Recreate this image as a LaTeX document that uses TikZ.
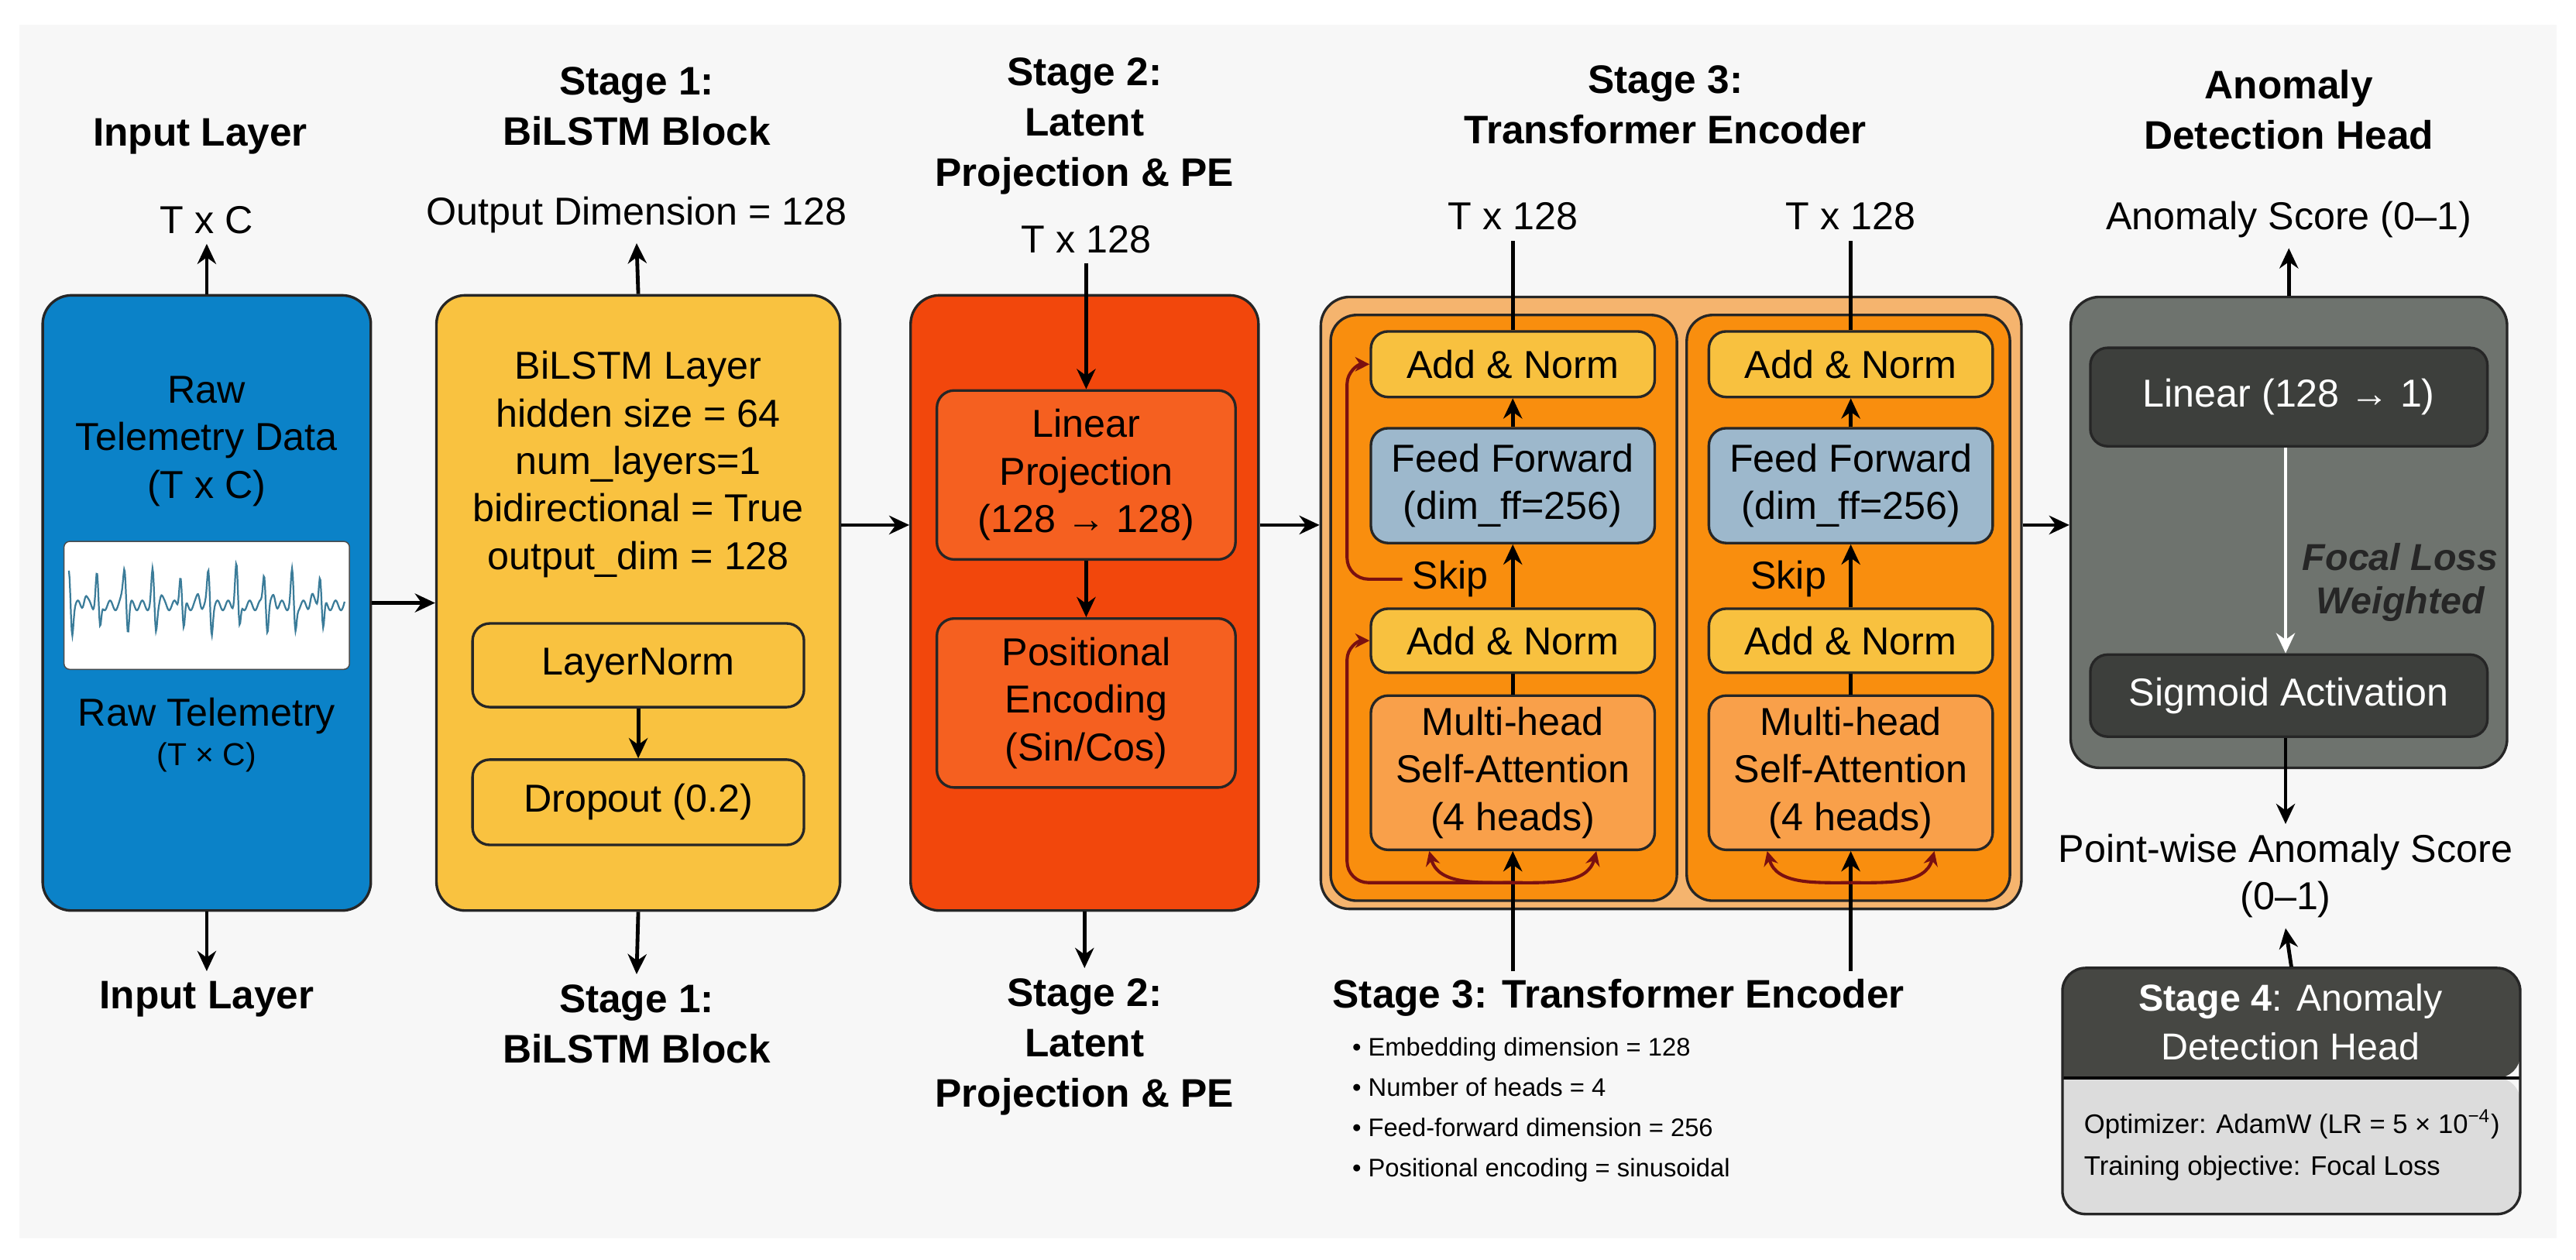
\documentclass[tikz,border=0pt]{standalone}
\usepackage{fontspec}
\setmainfont{Liberation Sans}
\usetikzlibrary{arrows.meta}
\definecolor{cblue}{HTML}{0B82C8}
\definecolor{cyel}{HTML}{F9C240}
\definecolor{cred}{HTML}{F2470C}
\definecolor{credin}{HTML}{F56020}
\definecolor{couter}{HTML}{F5B46E}
\definecolor{cinner}{HTML}{F98E0E}
\definecolor{cadd}{HTML}{F8C13F}
\definecolor{cff}{HTML}{9DB8CC}
\definecolor{cmh}{HTML}{F9A04A}
\definecolor{cgray}{HTML}{6E736E}
\definecolor{cdark}{HTML}{3D3F3C}
\definecolor{cs4}{HTML}{464743}
\definecolor{clight}{HTML}{DCDCDC}
\definecolor{cwave}{HTML}{3B7C99}
\definecolor{cskip}{HTML}{7A1010}
\definecolor{cbg}{HTML}{F7F7F7}
\newcommand\ttlf{\fontsize{13.8}{17.5}\selectfont\bfseries}
\newcommand\bodyf{\fontsize{13.5}{16.5}\selectfont}
\newcommand\smallf{\fontsize{8.8}{14}\selectfont}
\begin{document}
\begin{tikzpicture}[x=0.02cm,y=-0.02cm,
  box/.style={draw=black!85, line width=0.9pt, rounded corners=6pt, align=center, inner sep=0pt, font=\bodyf},
  ttl/.style={font=\ttlf, align=center},
  lbl/.style={font=\bodyf, align=center},
  arr/.style={-{Stealth[length=7pt,width=6.5pt]}, line width=1.3pt},
  sarr/.style={-{Stealth[length=5pt,width=5pt]}, line width=1.1pt, draw=cskip}]
\fill[white] (0,0) rectangle (1570,768);
\useasboundingbox (0,0) rectangle (1570,768);
\fill[cbg] (12,15) rectangle (1558,755);

% ---------- Input ----------
\node[box, fill=cblue, minimum width=200*0.02cm, minimum height=375*0.02cm, rounded corners=10pt] (inp) at (126,367.5) {};
\node[lbl] (inpt) at (126,269) {Raw\\Telemetry Data\\(T x C)};
\node[draw=black!70, fill=white, rounded corners=2pt, minimum width=174*0.02cm, minimum height=78*0.02cm, inner sep=0] (wave) at (126,369) {};
\draw[cwave, line width=0.6pt] plot[domain=42:210, samples=400]
  (\x,{369 - 3*sin(55*\x) - 20*exp(-pow(mod(\x,17)-8,2)/1.2) + 16*exp(-pow(mod(\x,17)-10,2)/1.0) - 6*exp(-pow(mod(\x+5,23)-11,2)/2)});
\node[lbl] (inpb) at (126,448) {Raw Telemetry\\[-3pt]{\fontsize{11}{12}\selectfont (T × C)}};
\node[ttl] (t0) at (122,83) {Input Layer};
\node[ttl] (b0) at (126,609) {Input Layer};
\node[lbl] (o0) at (126,134) {T x C};
\draw[arr] (inp.north) -- (o0.south);
\draw[arr] (inp.south) -- (b0.north);

% ---------- BiLSTM ----------
\node[box, fill=cyel, minimum width=246*0.02cm, minimum height=375*0.02cm, rounded corners=10pt] (bil) at (389,367.5) {};
\node[lbl] (bilt) at (389,283) {BiLSTM Layer\\hidden size = 64\\num\_layers=1\\bidirectional = True\\output\_dim = 128};
\node[box, fill=cyel, minimum width=202*0.02cm, minimum height=51*0.02cm] (ln) at (389,405.5) {LayerNorm};
\node[box, fill=cyel, minimum width=202*0.02cm, minimum height=52*0.02cm] (dr) at (389,489) {Dropout (0.2)};
\draw[arr] (ln) -- (dr);
\node[ttl] (t1) at (388,65) {Stage 1:\\BiLSTM Block};
\node[lbl] (o1) at (388,131) {Output Dimension = 128};
\draw[arr] (bil.north) -- (o1.south);
\node[ttl] (b1) at (388,624) {Stage 1:\\BiLSTM Block};
\draw[arr] (bil.south) -- (b1.north);
\draw[arr] (inp) -- (bil);

% ---------- Latent ----------
\node[box, fill=cred, minimum width=212*0.02cm, minimum height=375*0.02cm, rounded corners=10pt] (lat) at (661,367.5) {};
\node[box, fill=credin, minimum width=182*0.02cm, minimum height=103*0.02cm] (lp) at (662,289.5) {Linear\\Projection\\(128 → 128)};
\node[box, fill=credin, minimum width=182*0.02cm, minimum height=103*0.02cm] (pe) at (662,428.5) {Positional\\Encoding\\(Sin/Cos)};
\node[ttl] (t2) at (661,77) {Stage 2:\\Latent\\Projection \& PE};
\node[lbl] (o2) at (662,146) {T x 128};
\draw[arr] (o2.south) -- (lp.north);
\draw[arr] (lp) -- (pe);
\node[ttl] (b2) at (661,638) {Stage 2:\\Latent\\Projection \& PE};
\draw[arr] (lat.south) -- (b2.north);
\draw[arr] (bil.east |- 0,320) -- (lat.west |- 0,320);

% ---------- Transformer ----------
\node[box, fill=couter, minimum width=427*0.02cm, minimum height=373*0.02cm, rounded corners=10pt] (tro) at (1018.5,367.5) {};
\node[box, fill=cinner, minimum width=211*0.02cm, minimum height=357*0.02cm, rounded corners=9pt] (tb1) at (916.5,370.5) {};
\node[box, fill=cinner, minimum width=197*0.02cm, minimum height=357*0.02cm, rounded corners=9pt] (tb2) at (1126.5,370.5) {};
\foreach \i/\cx in {1/922,2/1128}{
  \node[box, fill=cadd, minimum width=173*0.02cm, minimum height=40*0.02cm] (ant\i) at (\cx,222) {Add \& Norm};
  \node[box, fill=cff, minimum width=173*0.02cm, minimum height=70*0.02cm] (ff\i) at (\cx,296) {Feed Forward\\(dim\_ff=256)};
  \node[box, fill=cadd, minimum width=173*0.02cm, minimum height=39*0.02cm] (anb\i) at (\cx,390.5) {Add \& Norm};
  \node[box, fill=cmh, minimum width=173*0.02cm, minimum height=94*0.02cm] (mh\i) at (\cx,471) {Multi-head\\Self-Attention\\(4 heads)};
  \node[lbl] (sk\i) at (\cx-38,353) {Skip};
  \node[lbl] (ot\i) at (\cx,132) {T x 128};
  \coordinate (in\i) at (\cx,592);
  \coordinate (br\i) at (\cx,538);
  \draw[arr] (in\i) -- (mh\i.south);
  \draw[line width=1.3pt] (mh\i.north) -- (anb\i.south);
  \draw[arr] (anb\i.north) -- (ff\i.south);
  \draw[arr] (ff\i.north) -- (ant\i.south);
  \draw[line width=1.3pt] (ant\i.north) -- (ot\i.south);
  \draw[sarr] (br\i) to[out=180,in=-75] ([xshift=-29pt]mh\i.south);
  \draw[sarr] (br\i) to[out=0,in=-105] ([xshift=29pt]mh\i.south);
}
\draw[sarr] (br1) -- (834,538) to[out=180,in=-90] (821,525) -- (821,402) to[out=90,in=180] (anb1.west);
\draw[sarr] (sk1.west) -- (834,353) to[out=180,in=-90] (821,340) -- (821,234) to[out=90,in=180] (ant1.west);
\node[ttl] (t3) at (1015,64) {Stage 3:\\Transformer Encoder};
\node[ttl, anchor=west] (b3) at (806,608) {Stage 3: Transformer Encoder};
\node[font=\smallf, anchor=north west, align=left] (bul) at (818,626) {• Embedding dimension = 128\\• Number of heads = 4\\• Feed-forward dimension = 256\\• Positional encoding = sinusoidal};
\draw[arr] (lat.east |- 0,320) -- (tro.west |- 0,320);

% ---------- Anomaly ----------
\node[box, fill=cgray, minimum width=266*0.02cm, minimum height=287*0.02cm, rounded corners=10pt] (an) at (1395,324.5) {};
\node[box, fill=cdark, text=white, minimum width=242*0.02cm, minimum height=60*0.02cm] (lin) at (1395,242) {Linear (128 → 1)};
\node[box, fill=cdark, text=white, minimum width=242*0.02cm, minimum height=50*0.02cm] (sig) at (1395,424) {Sigmoid Activation};
\draw[arr, draw=white] (lin.south -| 1393,0) -- (sig.north -| 1393,0);
\node[font=\fontsize{13}{15}\selectfont\bfseries\itshape, text=black!85, align=center] (fl) at (1463,355) {Focal Loss\\Weighted};
\node[ttl] (t4) at (1395,67) {Anomaly\\Detection Head};
\node[lbl] (o4) at (1395,134) {Anomaly Score (0–1)};
\draw[arr] (an.north) -- (o4.south);
\draw[arr] (tro.east |- 0,320) -- (an.west |- 0,320);
\node[lbl] (pw) at (1393,534) {Point-wise Anomaly Score\\(0–1)};
\draw[arr] (sig.south -| pw) -- (pw.north);
% Stage 4 box
\fill[cs4, rounded corners=8pt] (1257,657) -- (1257,590) -- (1536,590) -- (1536,657) [sharp corners] -- cycle;
\fill[clight, rounded corners=8pt] (1257,657) -- (1257,740) -- (1536,740) -- (1536,657) [sharp corners] -- cycle;
\draw[line width=0.9pt] (1257,657) -- (1536,657);
\node[draw=black!85, line width=0.9pt, rounded corners=8pt, minimum width=279*0.02cm, minimum height=150*0.02cm, inner sep=0] (s4) at (1396.5,665) {};
\node[font=\fontsize{13}{17}\selectfont, text=white, align=center] (s4t) at (1396,623) {\textbf{Stage 4}: Anomaly\\Detection Head};
\node[font=\fontsize{9.3}{14.5}\selectfont, align=left, anchor=west] (s4b) at (1264,698) {Optimizer: AdamW (LR = 5 × 10\textsuperscript{−4})\\Training objective: Focal Loss};
\draw[arr] (s4.north) -- (pw.south);
\end{tikzpicture}
\end{document}
